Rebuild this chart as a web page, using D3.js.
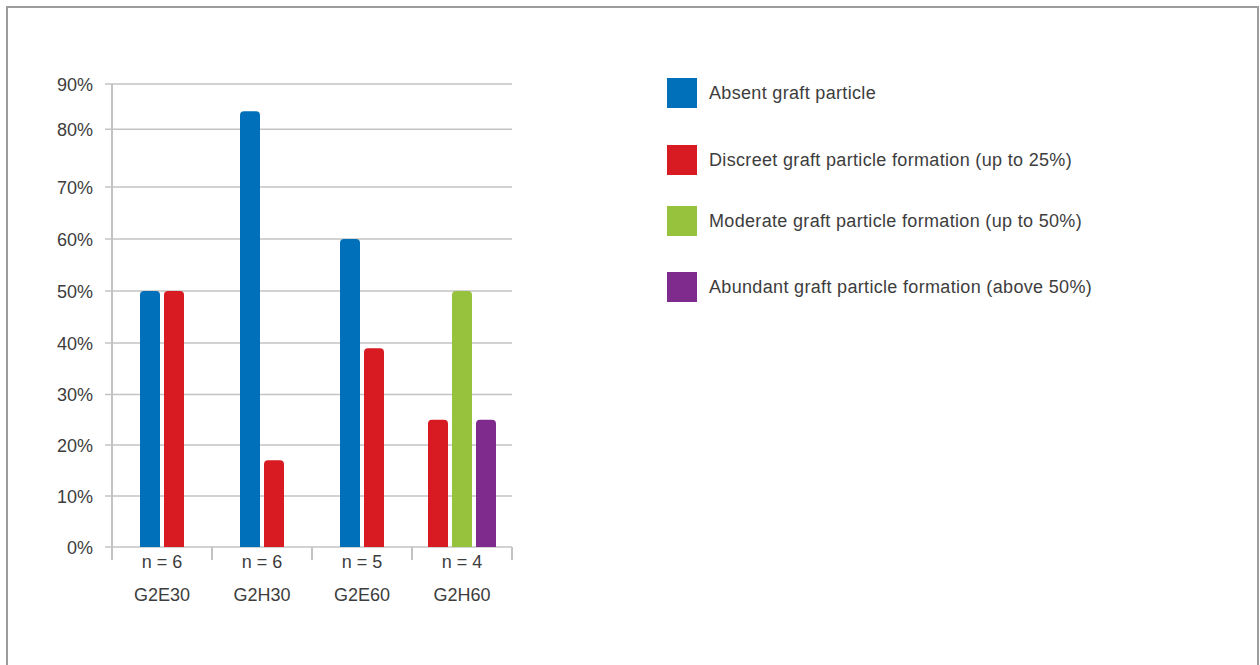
<!DOCTYPE html>
<html>
<head>
<meta charset="utf-8">
<script src="https://cdn.jsdelivr.net/npm/d3@7/dist/d3.min.js"></script>
<style>
  html, body { margin: 0; padding: 0; background: #fff; }
  svg { display: block; font-family: "Liberation Sans", Arial, Helvetica, sans-serif; }
</style>
</head>
<body>
<svg id="chart" width="1260" height="665"></svg>
<script>
// Groups along the x axis, with sample size per group
const groups = ["G2E30", "G2H30", "G2E60", "G2H60"];
const sampleSizes = [6, 6, 5, 4];

// Share of samples (%) per graft particle category, one value per group
const series = ["Absent graft particle",
                "Discreet graft particle formation (up to 25%)",
                "Moderate graft particle formation (up to 50%)",
                "Abundant graft particle formation (above 50%)"];
const absent    = [50, 84, 60, 0];
const discreet  = [50, 17, 39, 25];
const moderate  = [0, 0, 0, 50];
const abundant  = [0, 0, 0, 25];

// Y axis tick values (%)
const yTicks = [0, 10, 20, 30, 40, 50, 60, 70, 80, 90];

const colors = ["#0070ba", "#d81b22", "#97c23d", "#7f2b8e"];
const values = [absent, discreet, moderate, abundant];

const svg = d3.select("#chart");

// outer frame
svg.append("rect")
  .attr("x", 7).attr("y", 7).attr("width", 1251).attr("height", 700)
  .attr("fill", "none").attr("stroke", "#9c9c9c").attr("stroke-width", 2);

const plotLeft = 112, plotRight = 512;

// the vertical axis of this figure is not evenly spaced; each tick has its own position
const yStops = [547, 496, 445, 394.5, 343, 291, 239, 187, 129.3, 84];
const y = d3.scaleLinear().domain(yTicks).range(yStops);

const x = d3.scaleBand().domain(groups).range([plotLeft, plotRight]);

const gridColor = "#c3c3c3";
const textColor = "#3d3d3d";

// gridlines with short ticks to the left of the axis
const grid = svg.append("g");
grid.selectAll("line").data(yTicks).join("line")
  .attr("x1", plotLeft - 7).attr("x2", plotRight)
  .attr("y1", d => y(d)).attr("y2", d => y(d))
  .attr("stroke", gridColor).attr("stroke-width", 1.5);

// y labels
svg.append("g").selectAll("text").data(yTicks).join("text")
  .attr("x", 93).attr("y", d => y(d) + 6.5)
  .attr("text-anchor", "end")
  .attr("font-size", 18).attr("fill", textColor)
  .text(d => d + "%");

// y axis line
svg.append("line")
  .attr("x1", plotLeft).attr("x2", plotLeft)
  .attr("y1", y(90)).attr("y2", y(0) + 13)
  .attr("stroke", gridColor).attr("stroke-width", 2);

// group separator ticks below the baseline
const seps = groups.map(g => x(g) + x.bandwidth()).concat([plotLeft]);
svg.append("g").selectAll("line").data(seps).join("line")
  .attr("x1", d => d).attr("x2", d => d)
  .attr("y1", y(0)).attr("y2", y(0) + 13)
  .attr("stroke", gridColor).attr("stroke-width", 2);

// bar path with rounded top corners
function barPath(x0, w, yTop, yBase, r) {
  r = Math.min(r, w / 2, yBase - yTop);
  return `M${x0},${yBase}V${yTop + r}Q${x0},${yTop} ${x0 + r},${yTop}` +
         `H${x0 + w - r}Q${x0 + w},${yTop} ${x0 + w},${yTop + r}V${yBase}Z`;
}

// bars: only non-zero categories are shown, centred in each group
const barG = svg.append("g");
groups.forEach((g, gi) => {
  const present = series.map((s, si) => si).filter(si => values[si][gi] > 0);
  const n = present.length;
  const c = x(g) + x.bandwidth() / 2;
  const sub = d3.scaleBand().domain(present)
    .range([c - n * 12, c + n * 12])
    .paddingInner(1 / 6).paddingOuter(1 / 12);
  present.forEach(si => {
    barG.append("path")
      .attr("d", barPath(sub(si), sub.bandwidth(), y(values[si][gi]), y(0), 4))
      .attr("fill", colors[si]);
  });
});

// x labels
const xl = svg.append("g");
xl.selectAll("text.n").data(groups).join("text")
  .attr("class", "n")
  .attr("x", d => x(d) + x.bandwidth() / 2).attr("y", 568)
  .attr("text-anchor", "middle").attr("font-size", 18).attr("fill", textColor)
  .text((d, i) => "n = " + sampleSizes[i]);
xl.selectAll("text.g").data(groups).join("text")
  .attr("class", "g")
  .attr("x", d => x(d) + x.bandwidth() / 2).attr("y", 601)
  .attr("text-anchor", "middle").attr("font-size", 18).attr("fill", textColor)
  .text(d => d);

// legend
const legendTops = [78, 145, 206, 272];
const leg = svg.append("g");
series.forEach((s, i) => {
  leg.append("rect")
    .attr("x", 667).attr("y", legendTops[i]).attr("width", 30).attr("height", 30)
    .attr("fill", colors[i]);
  leg.append("text")
    .attr("x", 709).attr("y", legendTops[i] + 21.3)
    .attr("font-size", 18).attr("letter-spacing", 0.33).attr("fill", textColor)
    .text(s);
});
</script>
</body>
</html>
